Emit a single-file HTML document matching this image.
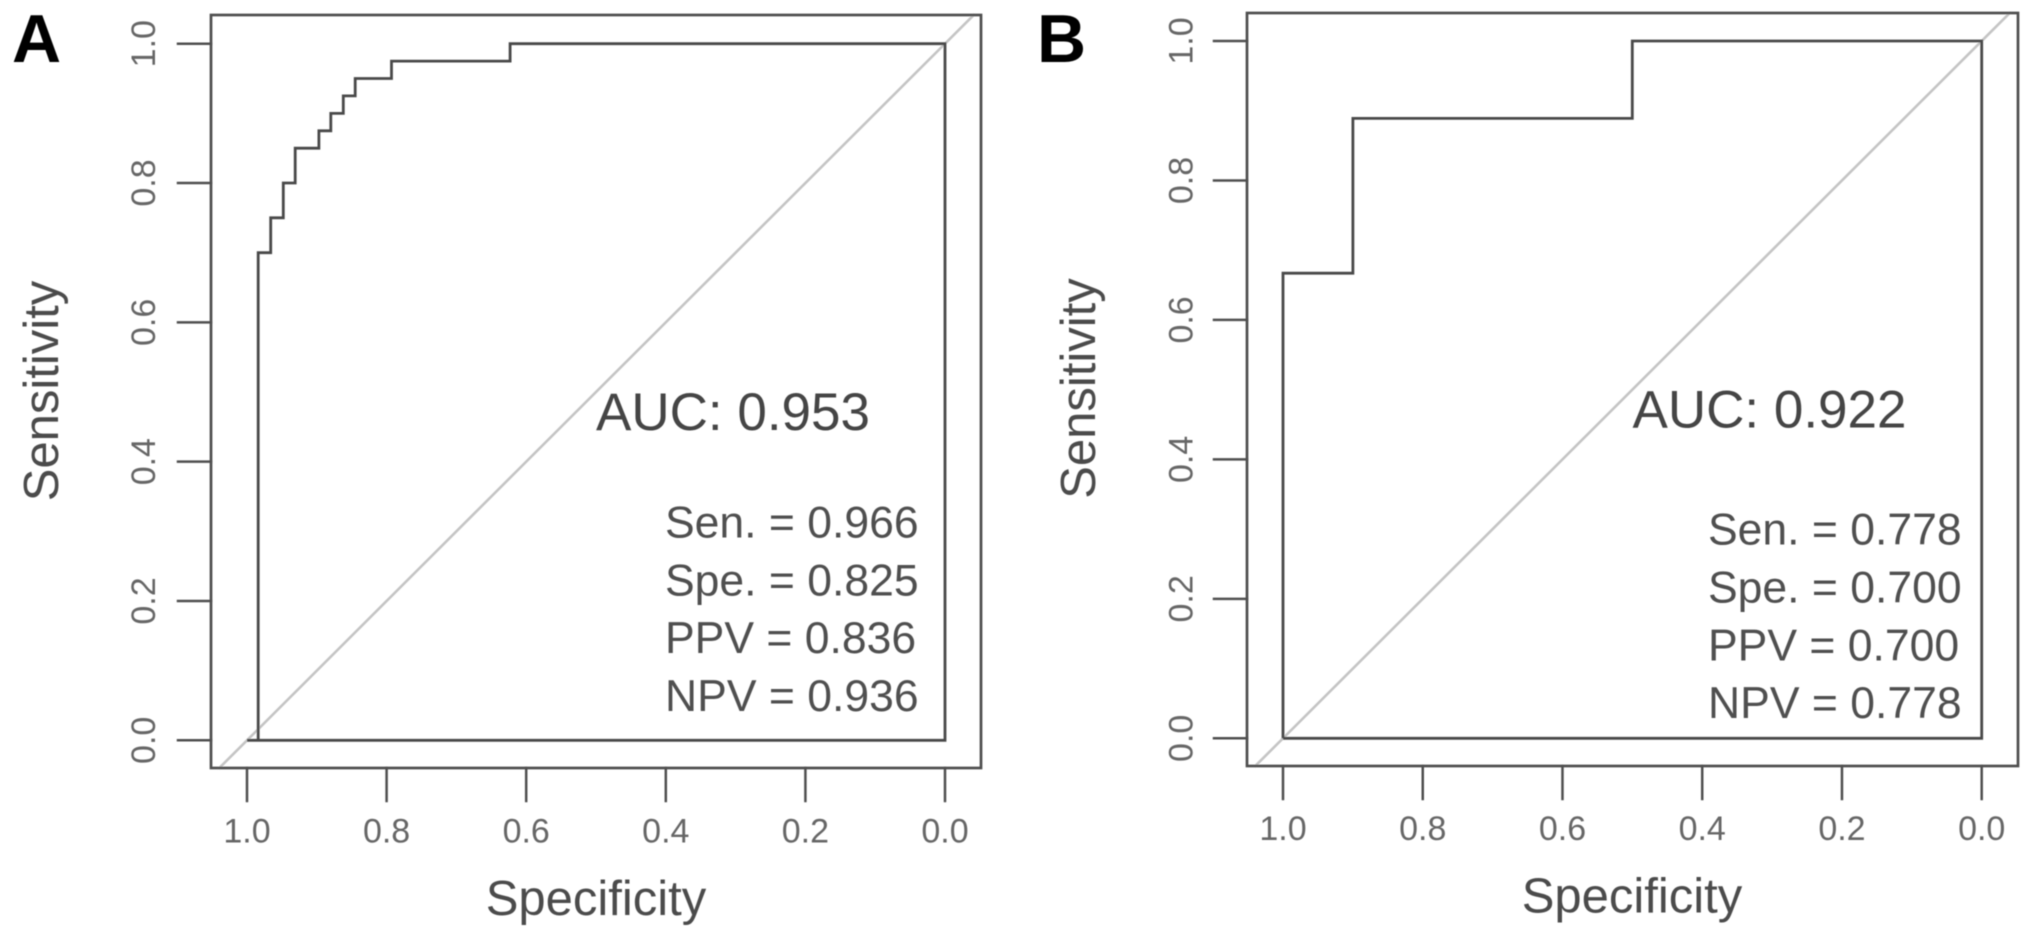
<!DOCTYPE html>
<html lang="en">
<head>
<meta charset="utf-8">
<title>ROC curves</title>
<style>
html,body{margin:0;padding:0;background:#fff;width:2031px;height:940px;overflow:hidden}
svg{display:block}
text{font-family:"Liberation Sans",Arial,sans-serif}
</style>
</head>
<body>
<svg id="chart" xmlns="http://www.w3.org/2000/svg" width="2031" height="940" viewBox="0 0 2031 940">
<defs><filter id="soft" x="-2%" y="-2%" width="104%" height="104%"><feGaussianBlur stdDeviation="0.6"/></filter></defs>
<rect width="2031" height="940" fill="#fff"/>
<g id="root" filter="url(#soft)"></g>
</svg>
<script>
const tickValues = [1.0, 0.8, 0.6, 0.4, 0.2, 0.0];
const tickLabels = ['1.0', '0.8', '0.6', '0.4', '0.2', '0.0'];
const specA = [1, 0.984, 0.984, 0.966, 0.966, 0.948, 0.948, 0.931, 0.931, 0.897, 0.897, 0.88, 0.88, 0.862, 0.862, 0.845, 0.845, 0.793, 0.793, 0.623, 0.623, 0, 0, 1];
const sensA = [0, 0, 0.7, 0.7, 0.75, 0.75, 0.8, 0.8, 0.85, 0.85, 0.875, 0.875, 0.9, 0.9, 0.925, 0.925, 0.95, 0.95, 0.975, 0.975, 1, 1, 0, 0];
const specB = [1, 1, 0.9, 0.9, 0.5, 0.5, 0, 0, 1];
const sensB = [0, 0.667, 0.667, 0.889, 0.889, 1, 1, 0, 0];
const statsA = ['Sen. = 0.966', 'Spe. = 0.825', 'PPV = 0.836', 'NPV = 0.936'];
const statsB = ['Sen. = 0.778', 'Spe. = 0.700', 'PPV = 0.700', 'NPV = 0.778'];
const aucA = 'AUC: 0.953';
const aucB = 'AUC: 0.922';

const NS = 'http://www.w3.org/2000/svg';
const root = document.getElementById('root');
const INK = '#505050';

function line(parent, name, x1, y1, x2, y2, color, width) {
  const el = document.createElementNS(NS, 'line');
  
  
  el.setAttribute('x1', x1);
  el.setAttribute('y1', y1);
  el.setAttribute('x2', x2);
  el.setAttribute('y2', y2);
  el.setAttribute('stroke', color);
  el.setAttribute('stroke-width', width);
  el.setAttribute('stroke-linecap', 'square');
  parent.appendChild(el);
  return el;
}

function label(parent, name, str, x, y, size, color, anchor, rotate, weight) {
  const el = document.createElementNS(NS, 'text');
  
  
  el.setAttribute('x', x);
  el.setAttribute('y', y);
  el.setAttribute('font-size', size);
  el.setAttribute('fill', color);
  el.setAttribute('text-anchor', anchor);
  if (rotate) el.setAttribute('transform', 'rotate(-90 ' + x + ' ' + y + ')');
  if (weight) el.setAttribute('font-weight', weight);
  el.textContent = str;
  parent.appendChild(el);
  return el;
}

function drawPanel(p) {
  const g = document.createElementNS(NS, 'g');
  
  
  root.appendChild(g);

  const xScale = s => p.x1 + (1 - s) * p.xUnit;
  const yScale = v => p.y0 - v * p.yUnit;

  // diagonal reference line, clipped to the plot box
  const bottomSens = (p.y0 - p.bottom) / p.yUnit;
  const topSens = (p.y0 - p.top) / p.yUnit;
  line(g, 'reference-diagonal', xScale(1 - bottomSens), p.bottom, xScale(1 - topSens), p.top, '#c4c4c4', 2.6);

  // plot box
  const box = document.createElementNS(NS, 'rect');
  
  
  box.setAttribute('x', p.left);
  box.setAttribute('y', p.top);
  box.setAttribute('width', p.right - p.left);
  box.setAttribute('height', p.bottom - p.top);
  box.setAttribute('fill', 'none');
  box.setAttribute('stroke', INK);
  box.setAttribute('stroke-width', 2.7);
  g.appendChild(box);

  // roc curve
  const curve = document.createElementNS(NS, 'path');
  
  
  curve.setAttribute('d', p.spec.map((s, i) => (i ? 'L' : 'M') + xScale(s).toFixed(1) + ' ' + yScale(p.sens[i]).toFixed(1)).join(' '));
  curve.setAttribute('fill', 'none');
  curve.setAttribute('stroke', '#4a4a4a');
  curve.setAttribute('stroke-width', 2.8);
  curve.setAttribute('stroke-linejoin', 'miter');
  g.appendChild(curve);

  // ticks and tick labels
  tickValues.forEach((v, i) => {
    line(g, 'x-tick', xScale(v), p.bottom, xScale(v), p.bottom + 33, INK, 2.5);
    label(g, 'x-tick-label', tickLabels[i], xScale(v), p.xLabelY, 34, '#666', 'middle');
    line(g, 'y-tick', p.left - 33, yScale(v), p.left, yScale(v), INK, 2.5);
    label(g, 'y-tick-label', tickLabels[i], p.yLabelX, yScale(v), 34, '#666', 'middle', true);
  });

  // axis titles
  label(g, 'x-axis-title', 'Specificity', p.xTitleX, p.xTitleY, 49, '#4c4c4c', 'middle');
  label(g, 'y-axis-title', 'Sensitivity', p.yTitleX, p.yTitleY, 49, '#4c4c4c', 'middle', true);

  // annotations
  label(g, 'auc-label', p.auc, p.aucX, p.aucY, 53, '#444', 'start');
  p.stats.forEach((s, i) => {
    label(g, 'stat-label', s, p.statX, p.statY0 + i * p.statStep, 44.5, '#505050', 'start');
  });

  // panel letter
  label(g, 'panel-letter', p.letter, p.letterX, 62, 68, '#000', 'start', false, 'bold');
}

drawPanel({
  id: 'a', letter: 'A', letterX: 12, left: 211, right: 981, top: 15, bottom: 768,
  x1: 247, xUnit: 698, y0: 740.3, yUnit: 696.6,
  spec: specA, sens: sensA, stats: statsA, auc: aucA,
  xLabelY: 842.5, yLabelX: 155, xTitleX: 596, xTitleY: 915, yTitleX: 58, yTitleY: 391,
  aucX: 596, aucY: 430, statX: 665, statY0: 537.5, statStep: 57.8
});
drawPanel({
  id: 'b', letter: 'B', letterX: 1037, left: 1247, right: 2018, top: 13, bottom: 766,
  x1: 1283, xUnit: 698.7, y0: 738.3, yUnit: 697.3,
  spec: specB, sens: sensB, stats: statsB, auc: aucB,
  xLabelY: 840, yLabelX: 1192.5, xTitleX: 1632, xTitleY: 912.5, yTitleX: 1095, yTitleY: 388.5,
  aucX: 1632.5, aucY: 427.5, statX: 1708, statY0: 544.7, statStep: 57.8
});
</script>
</body>
</html>
